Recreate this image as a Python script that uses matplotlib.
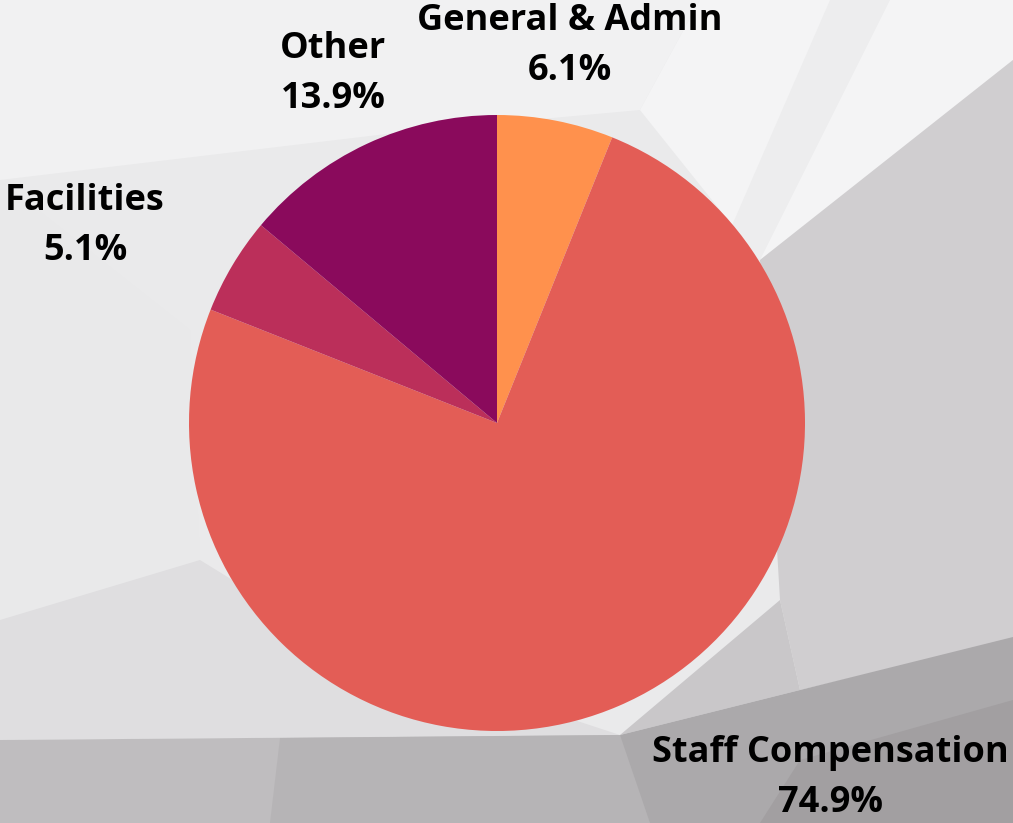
import matplotlib.pyplot as plt
from matplotlib.patches import Polygon

labels = ['General & Admin', 'Staff Compensation', 'Facilities', 'Other']
shares = [6.1, 74.9, 5.1, 13.9]
colors = ['#FF914D', '#E35D56', '#BB2F5A', '#8A0A5C']

W, H = 1013, 823
fig = plt.figure(figsize=(W / 100, H / 100), dpi=100)
fig.patch.set_facecolor('#EAEAEB')

# background: low-poly grey facets (pixel coords, y down)
bg = fig.add_axes([0, 0, 1, 1])
bg.set_xlim(0, W)
bg.set_ylim(H, 0)
bg.axis('off')
facets = [
    ([(0, 0), (700, 0), (640, 110), (420, 130), (0, 180)], '#F1F1F2'),
    ([(700, 0), (1013, 0), (1013, 60), (760, 260), (640, 110)], '#F4F4F5'),
    ([(830, 0), (890, 0), (760, 260), (730, 230)], '#EDEDEE'),
    ([(0, 180), (190, 330), (200, 560), (0, 620)], '#E9E9EA'),
    ([(760, 260), (1013, 60), (1013, 640), (800, 690), (780, 600)], '#D0CED0'),
    ([(0, 620), (200, 560), (330, 640), (620, 735), (0, 740)], '#DFDEE0'),
    ([(620, 735), (780, 600), (800, 690)], '#C9C7C9'),
    ([(0, 740), (620, 735), (700, 823), (0, 823)], '#BFBDBF'),
    ([(280, 738), (620, 735), (700, 823), (270, 823)], '#B6B4B6'),
    ([(620, 735), (800, 690), (1013, 637), (1013, 823), (650, 823)], '#ABA9AB'),
    ([(800, 760), (1013, 700), (1013, 823), (760, 823)], '#A29FA1'),
]
for pts, c in facets:
    bg.add_patch(Polygon(pts, closed=True, facecolor=c, edgecolor='none'))

# pie
cx, cy, r = 497, 423, 308
ax = fig.add_axes([(cx - r) / W, (H - cy - r) / H, 2 * r / W, 2 * r / H])
ax.pie(shares, colors=colors, startangle=90, counterclock=False,
       wedgeprops={'linewidth': 0})
ax.set_xlim(-1, 1)
ax.set_ylim(-1, 1)
ax.set_aspect('auto')
ax.axis('off')

label_pos = {
    'General & Admin': (570, 46),
    'Staff Compensation': (830, 778),
    'Facilities': (85, 226),
    'Other': (333, 74),
}
for lab, val in zip(labels, shares):
    x, y = label_pos[lab]
    fig.text(x / W, 1 - y / H, f'{lab}\n{val}%', ha='center', va='center',
             fontsize=26, fontweight='bold', family='Open Sans',
             linespacing=1.55, color='black')

fig.savefig('out.png', dpi=100)
